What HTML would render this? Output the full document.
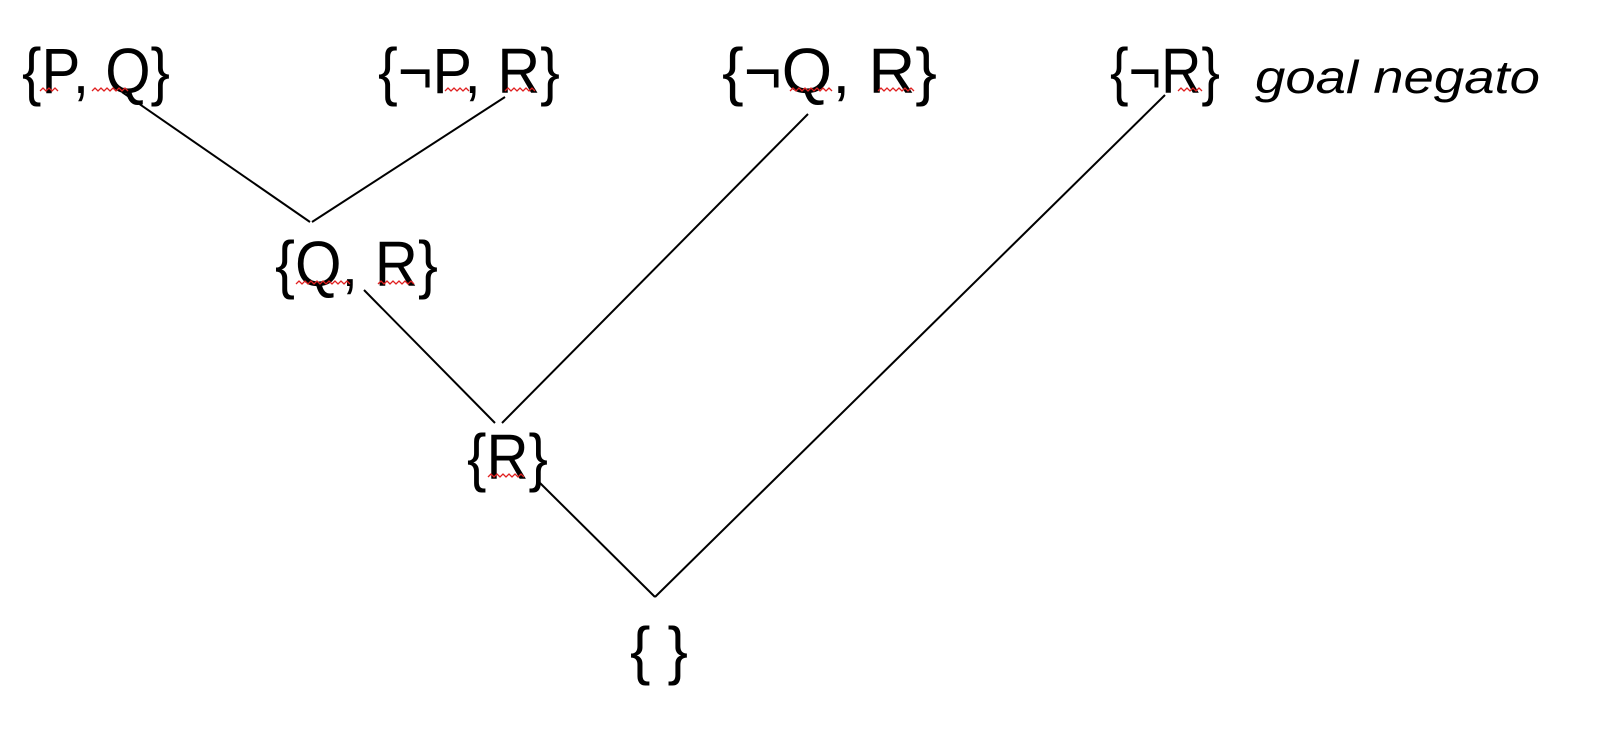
<!DOCTYPE html>
<html><head><meta charset="utf-8"><style>
html,body{margin:0;padding:0;background:#fff;width:1602px;height:740px;overflow:hidden}
text{font-family:"Liberation Sans",sans-serif;fill:#000}
</style></head><body>
<svg width="1602" height="740" viewBox="0 0 1602 740">
<g stroke="#000" stroke-width="2" fill="none">
<line x1="122" y1="92" x2="310" y2="222"/>
<line x1="505" y1="97" x2="312" y2="222"/>
<line x1="364" y1="290" x2="495" y2="423"/>
<line x1="808" y1="114" x2="502" y2="423"/>
<line x1="540" y1="483" x2="655" y2="597"/>
<line x1="1165" y1="95" x2="655" y2="597"/>
</g>
<g font-size="64">
<text x="22" y="93" textLength="148" lengthAdjust="spacingAndGlyphs">{P, Q}</text>
<text x="378" y="93" textLength="182" lengthAdjust="spacingAndGlyphs">{¬P, R}</text>
<text x="722" y="93" textLength="215" lengthAdjust="spacingAndGlyphs">{¬Q, R}</text>
<text x="1110" y="93" textLength="110" lengthAdjust="spacingAndGlyphs">{¬R}</text>
<text x="275" y="286" textLength="163" lengthAdjust="spacingAndGlyphs">{Q, R}</text>
<text x="467" y="479" textLength="81" lengthAdjust="spacingAndGlyphs">{R}</text>
<text x="630" y="672" textLength="58" lengthAdjust="spacingAndGlyphs">{ }</text>
</g>
<text x="1255" y="93" font-size="46" font-style="italic" textLength="285" lengthAdjust="spacingAndGlyphs">goal negato</text>
<g stroke="#e02020" stroke-width="1.3" fill="none">
<polyline points="40,91 43,88 46,91 49,88 52,91 55,88 58,91"/>
<polyline points="92,91 95,88 98,91 101,88 104,91 107,88 110,91 113,88 116,91 119,88 122,91 125,88 128,91"/>
<polyline points="445,91 448,88 451,91 454,88 457,91 460,88 463,91 466,88 469,91"/>
<polyline points="505,91 508,88 511,91 514,88 517,91 520,88 523,91 526,88 529,91 532,88 535,91"/>
<polyline points="790,91 793,88 796,91 799,88 802,91 805,88 808,91 811,88 814,91 817,88 820,91 823,88 826,91 829,88 832,91"/>
<polyline points="878,91 881,88 884,91 887,88 890,91 893,88 896,91 899,88 902,91 905,88 908,91 911,88 914,91"/>
<polyline points="1178,91 1181,88 1184,91 1187,88 1190,91 1193,88 1196,91 1199,88 1202,91"/>
<polyline points="296,284 299,281 302,284 305,281 308,284 311,281 314,284 317,281 320,284 323,281 326,284 329,281 332,284 335,281 338,284 341,281 344,284 347,281 350,284"/>
<polyline points="378,284 381,281 384,284 387,281 390,284 393,281 396,284 399,281 402,284 405,281 408,284 411,281 414,284"/>
<polyline points="488,477 491,474 494,477 497,474 500,477 503,474 506,477 509,474 512,477 515,474 518,477 521,474 524,477"/>
</g>
</svg>
</body></html>
